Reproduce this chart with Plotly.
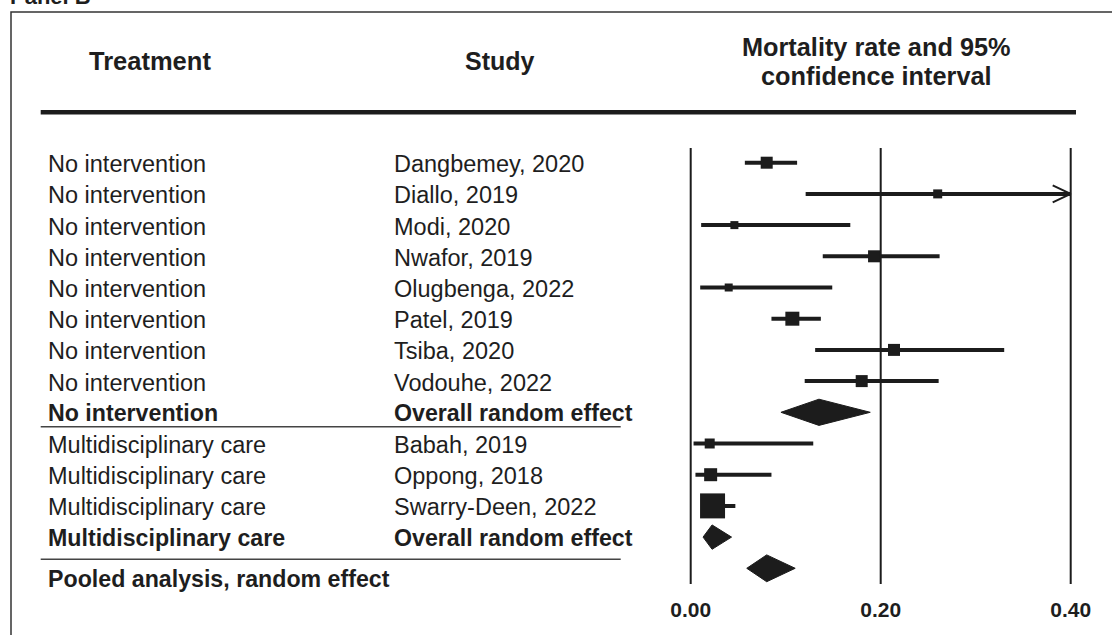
import plotly.graph_objects as go

# ---------------- data ----------------
treatments = ["No intervention"] * 8 + ["Multidisciplinary care"] * 3
studies = ["Dangbemey, 2020", "Diallo, 2019", "Modi, 2020", "Nwafor, 2019",
           "Olugbenga, 2022", "Patel, 2019", "Tsiba, 2020", "Vodouhe, 2022",
           "Babah, 2019", "Oppong, 2018", "Swarry-Deen, 2022"]
est = [0.080, 0.260, 0.046, 0.193, 0.040, 0.107, 0.214, 0.180, 0.020, 0.021, 0.023]
ci_lo = [0.057, 0.121, 0.011, 0.139, 0.010, 0.085, 0.131, 0.120, 0.003, 0.005, 0.012]
ci_hi = [0.112, 0.400, 0.168, 0.262, 0.149, 0.137, 0.330, 0.261, 0.129, 0.085, 0.047]
truncated = [False, True, False, False, False, False, False, False, False, False, False]
weights = [12, 9, 8, 12, 8, 14, 12, 12, 10, 13, 25]

summary_treat = ["No intervention", "Multidisciplinary care"]
summary_label = ["Overall random effect", "Overall random effect"]
summary_lo = [0.095, 0.013]
summary_mid = [0.135, 0.0225]
summary_hi = [0.189, 0.043]

pooled_label = "Pooled analysis, random effect"
pooled_lo, pooled_mid, pooled_hi = 0.059, 0.080, 0.110

tick_vals = [0.0, 0.2, 0.4]
tick_text = ["0.00", "0.20", "0.40"]
headers = ["Treatment", "Study", "Mortality rate and 95%", "confidence interval"]
panel_label = "Panel B"

# ---------------- layout geometry ----------------
W, H = 1112, 635
X0PX, PXPU = 690.7, 950.0          # pixel of x=0 and pixels per unit
ROW0, ROWPX = 162.7, 31.2          # pixel of first row and row pitch
INK = "#1c1c1c"
FONT = "Liberation Sans, Arial, Helvetica, sans-serif"

def px2row(py):
    return (py - ROW0) / ROWPX

def px_x(px):
    return px / W

def px_y(py):
    return 1 - py / H

# row indices
rows_study = [0, 1, 2, 3, 4, 5, 6, 7, 9, 10, 11]
rows_summary = [8, 12]
row_pooled = 13

fig = go.Figure()

# confidence interval lines
xs, ys = [], []
for lo, hi, r in zip(ci_lo, ci_hi, rows_study):
    xs += [lo, hi, None]
    ys += [r, r, None]
fig.add_trace(go.Scatter(x=xs, y=ys, mode="lines",
                         line=dict(color=INK, width=4), hoverinfo="skip",
                         showlegend=False))

# arrows for truncated intervals
ah_dx = 18 / PXPU
ah_dy = 8.5 / ROWPX
axs, ays = [], []
for t, hi, r in zip(truncated, ci_hi, rows_study):
    if t:
        axs += [hi - ah_dx, hi, hi - ah_dx, None]
        ays += [r - ah_dy, r, r + ah_dy, None]
fig.add_trace(go.Scatter(x=axs, y=ays, mode="lines",
                         line=dict(color=INK, width=2), hoverinfo="skip",
                         showlegend=False))

# point estimates (squares)
fig.add_trace(go.Scatter(x=est, y=rows_study, mode="markers",
                         marker=dict(symbol="square", size=weights, color=INK,
                                     opacity=1, line=dict(width=0)),
                         text=studies, showlegend=False))

# diamonds
def diamond(lo, mid, hi, r, h):
    return [lo, mid, hi, mid, lo], [r, r - h, r, r + h, r]

for lo, mid, hi, r, h in zip(summary_lo, summary_mid, summary_hi, rows_summary, [0.42, 0.39]):
    dx, dy = diamond(lo, mid, hi, r, h)
    fig.add_trace(go.Scatter(x=dx, y=dy, mode="lines", fill="toself",
                             fillcolor=INK, line=dict(color=INK, width=1),
                             hoverinfo="skip", showlegend=False))
dx, dy = diamond(pooled_lo, pooled_mid, pooled_hi, row_pooled, 0.43)
fig.add_trace(go.Scatter(x=dx, y=dy, mode="lines", fill="toself",
                         fillcolor=INK, line=dict(color=INK, width=1),
                         hoverinfo="skip", showlegend=False))

shapes = []
# vertical reference lines
for tv in tick_vals:
    shapes.append(dict(type="line", xref="x", yref="y", x0=tv, x1=tv,
                       y0=px2row(148), y1=px2row(584),
                       line=dict(color=INK, width=2)))
# header thick rule
shapes.append(dict(type="line", xref="paper", yref="paper",
                   x0=px_x(40.7), x1=px_x(1076), y0=px_y(112.3), y1=px_y(112.3),
                   line=dict(color=INK, width=4.5)))
# thin separators
for py in [426.7, 559.3]:
    shapes.append(dict(type="line", xref="paper", yref="paper",
                       x0=px_x(40.7), x1=px_x(620.7), y0=px_y(py), y1=px_y(py),
                       line=dict(color="#444444", width=1.6)))
# outer frame
shapes.append(dict(type="rect", xref="paper", yref="paper",
                   x0=px_x(11), x1=1.05, y0=-0.05, y1=px_y(12),
                   line=dict(color="#333333", width=1.5)))

ann = []
def text(x, y, s, size=23.5, bold=False, xanchor="left", yref="y", yshift=0, xref="paper"):
    ann.append(dict(x=x, y=y, xref=xref, yref=yref, text=("<b>%s</b>" % s) if bold else s,
                    showarrow=False, xanchor=xanchor, yanchor="middle", yshift=yshift,
                    font=dict(family=FONT, size=size, color="#1e1e1e")))

COL1, COL2 = px_x(46), px_x(391.5)
for tr, st, r in zip(treatments, studies, rows_study):
    text(COL1, r, tr, yshift=-1.5)
    text(COL2, r, st, yshift=-1.5)
for tr, lb, r in zip(summary_treat, summary_label, rows_summary):
    text(COL1, r, tr, size=23.2, bold=True, yshift=-1)
    text(COL2, r, lb, size=23.2, bold=True, yshift=-1)
text(COL1, row_pooled, pooled_label, size=23.2, bold=True, yshift=-11)

# headers
text(px_x(149.5), px_y(61), headers[0], size=25.5, bold=True, xanchor="center", yref="paper")
text(px_x(500), px_y(61), headers[1], size=25, bold=True, xanchor="center", yref="paper")
text(px_x(876), px_y(46.5), headers[2], size=25.3, bold=True, xanchor="center", yref="paper")
text(px_x(876), px_y(75.5), headers[3], size=25.3, bold=True, xanchor="center", yref="paper")
# panel label (cut at top edge, as in the reference)
text(px_x(8), px_y(-4), panel_label, size=22, bold=True, yref="paper")

fig.update_layout(
    width=W, height=H, margin=dict(l=0, r=0, t=0, b=0),
    paper_bgcolor="white", plot_bgcolor="white",
    shapes=shapes, annotations=ann, showlegend=False,
    xaxis=dict(range=[-X0PX / PXPU, (W - X0PX) / PXPU], domain=[0, 1],
               showgrid=False, zeroline=False, showline=False,
               tickvals=tick_vals, ticktext=["<b>%s</b>" % t for t in tick_text],
               ticks="", tickfont=dict(family=FONT, size=21, color="#1e1e1e"),
               anchor="free", position=px_y(594.5), fixedrange=True),
    yaxis=dict(range=[px2row(H), px2row(0)], domain=[0, 1], visible=False,
               fixedrange=True),
)

fig.write_html("out.html", config={"displayModeBar": False},
               post_script="document.body.style.margin='0px';")
